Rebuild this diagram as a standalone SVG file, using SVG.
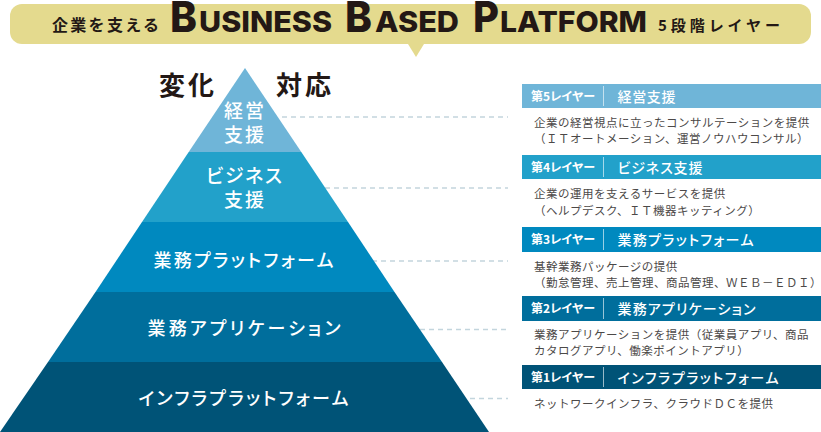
<svg xmlns="http://www.w3.org/2000/svg" width="821" height="432" viewBox="0 0 821 432">
<style>
text{font-family:"Noto Sans CJK JP","Noto Sans",sans-serif}
.h{fill:#231815;font-weight:700}
.en{font-family:"Inter","Lato","Liberation Sans",sans-serif;font-weight:800;fill:#231815}
.big{font-size:43px}
.sm{font-size:29px}
.l{fill:#fff;font-size:18px;font-weight:500;font-feature-settings:"palt"}
.l2{font-size:19px}
.tag{fill:#fff;font-size:12px;font-weight:700;font-feature-settings:"palt"}
.ttl{fill:#fff;font-size:14px;font-weight:500;font-feature-settings:"palt"}
.d{fill:#4c4948;font-size:11.5px;letter-spacing:.5px}
.sep{stroke:#fff;stroke-opacity:.6;stroke-width:1}
.dash{stroke:#c3d5dd;stroke-width:1.3;stroke-dasharray:5 4;fill:none}
</style>
<g id="banner">
<rect x="10" y="4" width="801" height="40" rx="12" fill="#e4da8e"/>
<path d="M408 44H424L416 57Z" fill="#e4da8e"/>
<text class="h" x="52" y="31" font-size="16" textLength="107">企業を支える</text>
<text class="en big" x="170" y="32" textLength="27" lengthAdjust="spacingAndGlyphs">B</text>
<text class="en sm" x="199" y="32" textLength="133" lengthAdjust="spacingAndGlyphs">USINESS</text>
<text class="en big" x="345" y="32" textLength="27" lengthAdjust="spacingAndGlyphs">B</text>
<text class="en sm" x="375" y="32" textLength="84" lengthAdjust="spacingAndGlyphs">ASED</text>
<text class="en big" x="473" y="32" textLength="26" lengthAdjust="spacingAndGlyphs">P</text>
<text class="en sm" x="500" y="32" textLength="147" lengthAdjust="spacingAndGlyphs">LATFORM</text>
<text class="h" x="658" y="30.500" font-size="15" textLength="122">5段階レイヤー</text>
</g>
<g id="labels">
<text class="h" x="159" y="95" font-size="26" letter-spacing="3">変化</text>
<text class="h" x="276" y="95" font-size="26" letter-spacing="3">対応</text>
</g>
<g id="connectors">
<path class="dash" d="M282 117H508"/>
<path class="dash" d="M325 188H508"/>
<path class="dash" d="M372 261H508"/>
<path class="dash" d="M420 329.500H508"/>
<path class="dash" d="M470 398.500H508"/>
</g>
<g id="pyramid-5"><path d="M245 68L301.300 152H188.700Z" fill="#6fb5d8"/>
<text class="l l2" x="224" y="118" textLength="40">経営</text><text class="l l2" x="224" y="142" textLength="40">支援</text></g>
<g id="pyramid-4"><path d="M188.700 152H301.300L348 222H142Z" fill="#22a1ca"/>
<text class="l l2" x="206" y="183" textLength="76">ビジネス</text><text class="l l2" x="224" y="207" textLength="40">支援</text></g>
<g id="pyramid-3"><path d="M142 222H348L394.500 292H95.500Z" fill="#0089bf"/>
<text class="l" x="153.500" y="267" textLength="180">業務プラットフォーム</text></g>
<g id="pyramid-2"><path d="M95.500 292H394.500L442 362H48Z" fill="#006e9c"/>
<text class="l" x="147.500" y="335" textLength="193">業務アプリケーション</text></g>
<g id="pyramid-1"><path d="M48 362H442L489 432H0Z" fill="#005377"/>
<text class="l" x="138.500" y="405" textLength="210">インフラプラットフォーム</text></g>
<g id="layer-5"><rect x="522" y="84" width="299" height="24" fill="#6fb5d8"/>
<text class="tag" x="531" y="101" textLength="64">第5レイヤー</text><path class="sep" d="M603.500 86V106"/>
<text class="ttl" x="617.500" y="102" textLength="58">経営支援</text>
<text class="d" x="534" y="126.500">企業の経営視点に立ったコンサルテーションを提供</text>
<text class="d" x="534" y="143">（ＩＴオートメーション、運営ノウハウコンサル）</text></g>
<g id="layer-4"><rect x="522" y="155" width="299" height="24" fill="#22a1ca"/>
<text class="tag" x="531" y="172" textLength="64">第4レイヤー</text><path class="sep" d="M603.500 157V177"/>
<text class="ttl" x="617.500" y="173" textLength="85">ビジネス支援</text>
<text class="d" x="534" y="197.500">企業の運用を支えるサービスを提供</text>
<text class="d" x="534" y="214.500">（ヘルプデスク、ＩＴ機器キッティング）</text></g>
<g id="layer-3"><rect x="522" y="227" width="299" height="25" fill="#0089bf"/>
<text class="tag" x="531" y="244" textLength="64">第3レイヤー</text><path class="sep" d="M603.500 229V250"/>
<text class="ttl" x="617.500" y="245" textLength="136">業務プラットフォーム</text>
<text class="d" x="534" y="270.500">基幹業務パッケージの提供</text>
<text class="d" x="534" y="286.500">（勤怠管理、売上管理、商品管理、ＷＥＢ－ＥＤＩ）</text></g>
<g id="layer-2"><rect x="522" y="296" width="299" height="25" fill="#006e9c"/>
<text class="tag" x="531" y="313" textLength="64">第2レイヤー</text><path class="sep" d="M603.500 298V319"/>
<text class="ttl" x="617.500" y="314" textLength="138">業務アプリケーション</text>
<text class="d" x="534" y="339">業務アプリケーションを提供（従業員アプリ、商品</text>
<text class="d" x="534" y="355">カタログアプリ、働楽ポイントアプリ）</text></g>
<g id="layer-1"><rect x="522" y="365" width="299" height="24" fill="#005377"/>
<text class="tag" x="531" y="382" textLength="64">第1レイヤー</text><path class="sep" d="M603.500 367V387"/>
<text class="ttl" x="617.500" y="383" textLength="161">インフラプラットフォーム</text>
<text class="d" x="534" y="408">ネットワークインフラ、クラウドＤＣを提供</text></g>
</svg>
